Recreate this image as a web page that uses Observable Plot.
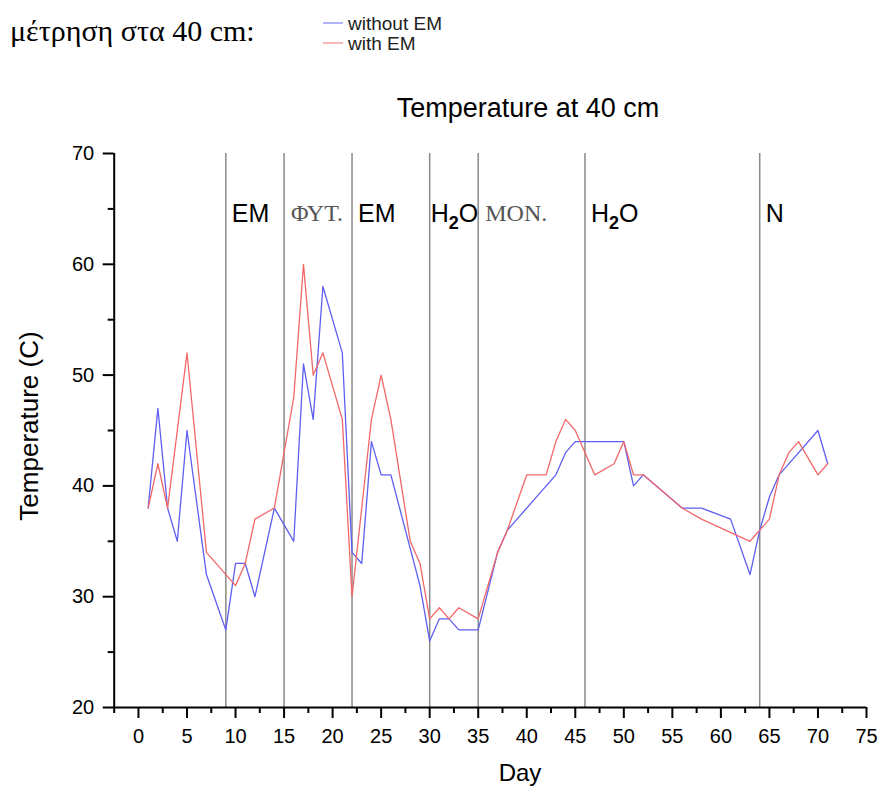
<!DOCTYPE html>
<html>
<head>
<meta charset="utf-8">
<script src="https://cdn.jsdelivr.net/npm/d3@7"></script>
<script src="https://cdn.jsdelivr.net/npm/@observablehq/plot@0.6"></script>
<style>
  body { margin: 0; background: #fff; }
  #wrap { position: relative; width: 881px; height: 790px; overflow: hidden; background: #fff;
          font-family: "Liberation Sans", Arial, sans-serif; color: #000; }
  #wrap > svg { position: absolute; left: 0; top: 0; }
  .abs { position: absolute; white-space: nowrap; line-height: 1; }
</style>
</head>
<body>
<div id="wrap">
  <div class="abs" style="left:10px; top:16px; font-family:'Liberation Serif', 'Times New Roman', serif; font-size:30px;">μέτρηση στα 40 cm:</div>
  <div class="abs" id="legend" style="left:323px; top:12px; width:140px; height:40px; font-size:19px; color:#222;"></div>
  <div class="abs" id="title" style="left:528px; top:95px; font-size:27px; transform:translateX(-50%);">Temperature at 40 cm</div>
  <div class="abs" id="ylabel" style="left:29px; top:426px; font-size:26px; transform:translate(-50%,-50%) rotate(-90deg);">Temperature (C)</div>
  <div class="abs" id="xlabel" style="left:520px; top:761px; font-size:24px; transform:translateX(-50%);">Day</div>
</div>
<script>
// ---- data ----
const seriesNames = ["without EM", "with EM"];
const seriesColors = ["#5f5ff2", "#f26868"];

const blueDays  = [1,2,3,4,5,7,9,10,11,12,14,16,17,18,19,21,22,23,24,25,26,29,30,31,32,33,35,37,38,43,44,45,50,51,52,56,58,61,63,64,65,66,70,71];
const blueTemps = [38,47,38,35,45,32,27,33,33,30,38,35,51,46,58,52,34,33,44,41,41,31,26,28,28,27,27,34,36,41,43,44,44,40,41,38,38,37,32,36,39,41,45,42];

const redDays  = [1,2,3,5,7,10,11,12,14,15,16,17,18,19,21,22,24,25,26,28,29,30,31,32,33,35,37,38,40,42,43,44,45,47,49,50,51,52,56,58,63,65,66,67,68,70,71];
const redTemps = [38,42,38,52,34,31,33,37,38,43,48,60,50,52,46,30,46,50,46,35,33,28,29,28,29,28,34,36,41,41,44,46,45,41,42,44,41,41,38,37,35,37,41,43,44,41,42];

const eventDays   = [9, 15, 22, 30, 35, 46, 64];
const eventLabels = ["EM", "ΦΥΤ.", "EM", "H₂O", "ΜΟΝ.", "H₂O", "N"];
const serifLabels = ["ΦΥΤ.", "ΜΟΝ."];

const xTicks = [0,5,10,15,20,25,30,35,40,45,50,55,60,65,70,75];
const xMinorTicks = [-2.5,2.5,7.5,12.5,17.5,22.5,27.5,32.5,37.5,42.5,47.5,52.5,57.5,62.5,67.5,72.5];
const yTicks = [20,30,40,50,60,70];
const yMinorTicks = [25,35,45,55,65];

// ---- build tables ----
const rows = [
  ...blueDays.map((d, i) => ({day: d, temp: blueTemps[i], s: seriesNames[0]})),
  ...redDays.map((d, i) => ({day: d, temp: redTemps[i], s: seriesNames[1]}))
];
const events = eventDays.map((d, i) => ({day: d, label: eventLabels[i], i}));
const sansEvents = events.filter(e => !serifLabels.includes(e.label));
const serifEvents = events.filter(e => serifLabels.includes(e.label));

const plot = Plot.plot({
  width: 881,
  height: 790,
  marginTop: 153,
  marginBottom: 83,
  marginLeft: 113.7,
  marginRight: 15,
  x: {domain: [-2.5, 75]},
  y: {domain: [20, 70]},
  color: {domain: seriesNames, range: seriesColors},
  style: {fontFamily: "'Liberation Sans', Arial, sans-serif", fontSize: "20px", color: "#000", background: "transparent", overflow: "visible"},
  marks: [
    Plot.ruleX(eventDays, {y1: 20, y2: 70, stroke: "#8a8a8a", strokeWidth: 1.5}),
    Plot.line(rows, {x: "day", y: "temp", z: "s", stroke: "s", strokeWidth: 1.3}),
    Plot.text(sansEvents.filter(e => e.i !== 3), {x: "day", text: "label", frameAnchor: "top", dy: 60, dx: 6, textAnchor: "start", lineAnchor: "middle", fontSize: 25, fill: "#000"}),
    Plot.text(sansEvents.filter(e => e.i === 3), {x: "day", text: "label", frameAnchor: "top", dy: 60, dx: 1, textAnchor: "start", lineAnchor: "middle", fontSize: 25, fill: "#000"}),
    Plot.text(serifEvents, {x: "day", text: "label", frameAnchor: "top", dy: 60, dx: 7, textAnchor: "start", lineAnchor: "middle", fontSize: 24, fontFamily: "'Liberation Serif', 'Times New Roman', serif", fill: "#555"}),
    Plot.ruleY([20], {stroke: "#000", strokeWidth: 2}),
    Plot.ruleX([-2.5], {y1: 20, y2: 70, stroke: "#000", strokeWidth: 2}),
    Plot.axisX({ticks: xTicks, tickSize: 11, tickPadding: 10, tickFormat: d => String(d), label: null, strokeWidth: 2}),
    Plot.axisX({ticks: xMinorTicks, tickSize: 6, tickFormat: () => "", label: null, strokeWidth: 2}),
    Plot.axisY({ticks: yTicks, tickSize: 11, tickPadding: 9, tickFormat: d => String(d), label: null, strokeWidth: 2}),
    Plot.axisY({ticks: yMinorTicks, tickSize: 6, tickFormat: () => "", label: null, strokeWidth: 2})
  ]
});

// subscript in H2O labels
d3.select(plot).selectAll("text").filter(function() { return this.textContent === "H₂O"; })
  .html('H<tspan dy="7" font-size="18" font-weight="bold">2</tspan><tspan dy="-7">O</tspan>');

document.getElementById("wrap").prepend(plot);

// legend
const legend = d3.select("#legend");
const lsvg = legend.append("svg").attr("width", 24).attr("height", 42)
  .style("position", "absolute").style("left", "0px").style("top", "0px");
seriesNames.forEach((name, i) => {
  lsvg.append("line").attr("x1", 0).attr("x2", 20).attr("y1", 11 + i * 20).attr("y2", 11 + i * 20)
    .attr("stroke", seriesColors[i]).attr("stroke-opacity", 0.6).attr("stroke-width", 1.6);
  legend.append("div").attr("class", "abs").style("left", "25px").style("top", (2 + i * 20) + "px").text(name);
});
</script>
</body>
</html>
